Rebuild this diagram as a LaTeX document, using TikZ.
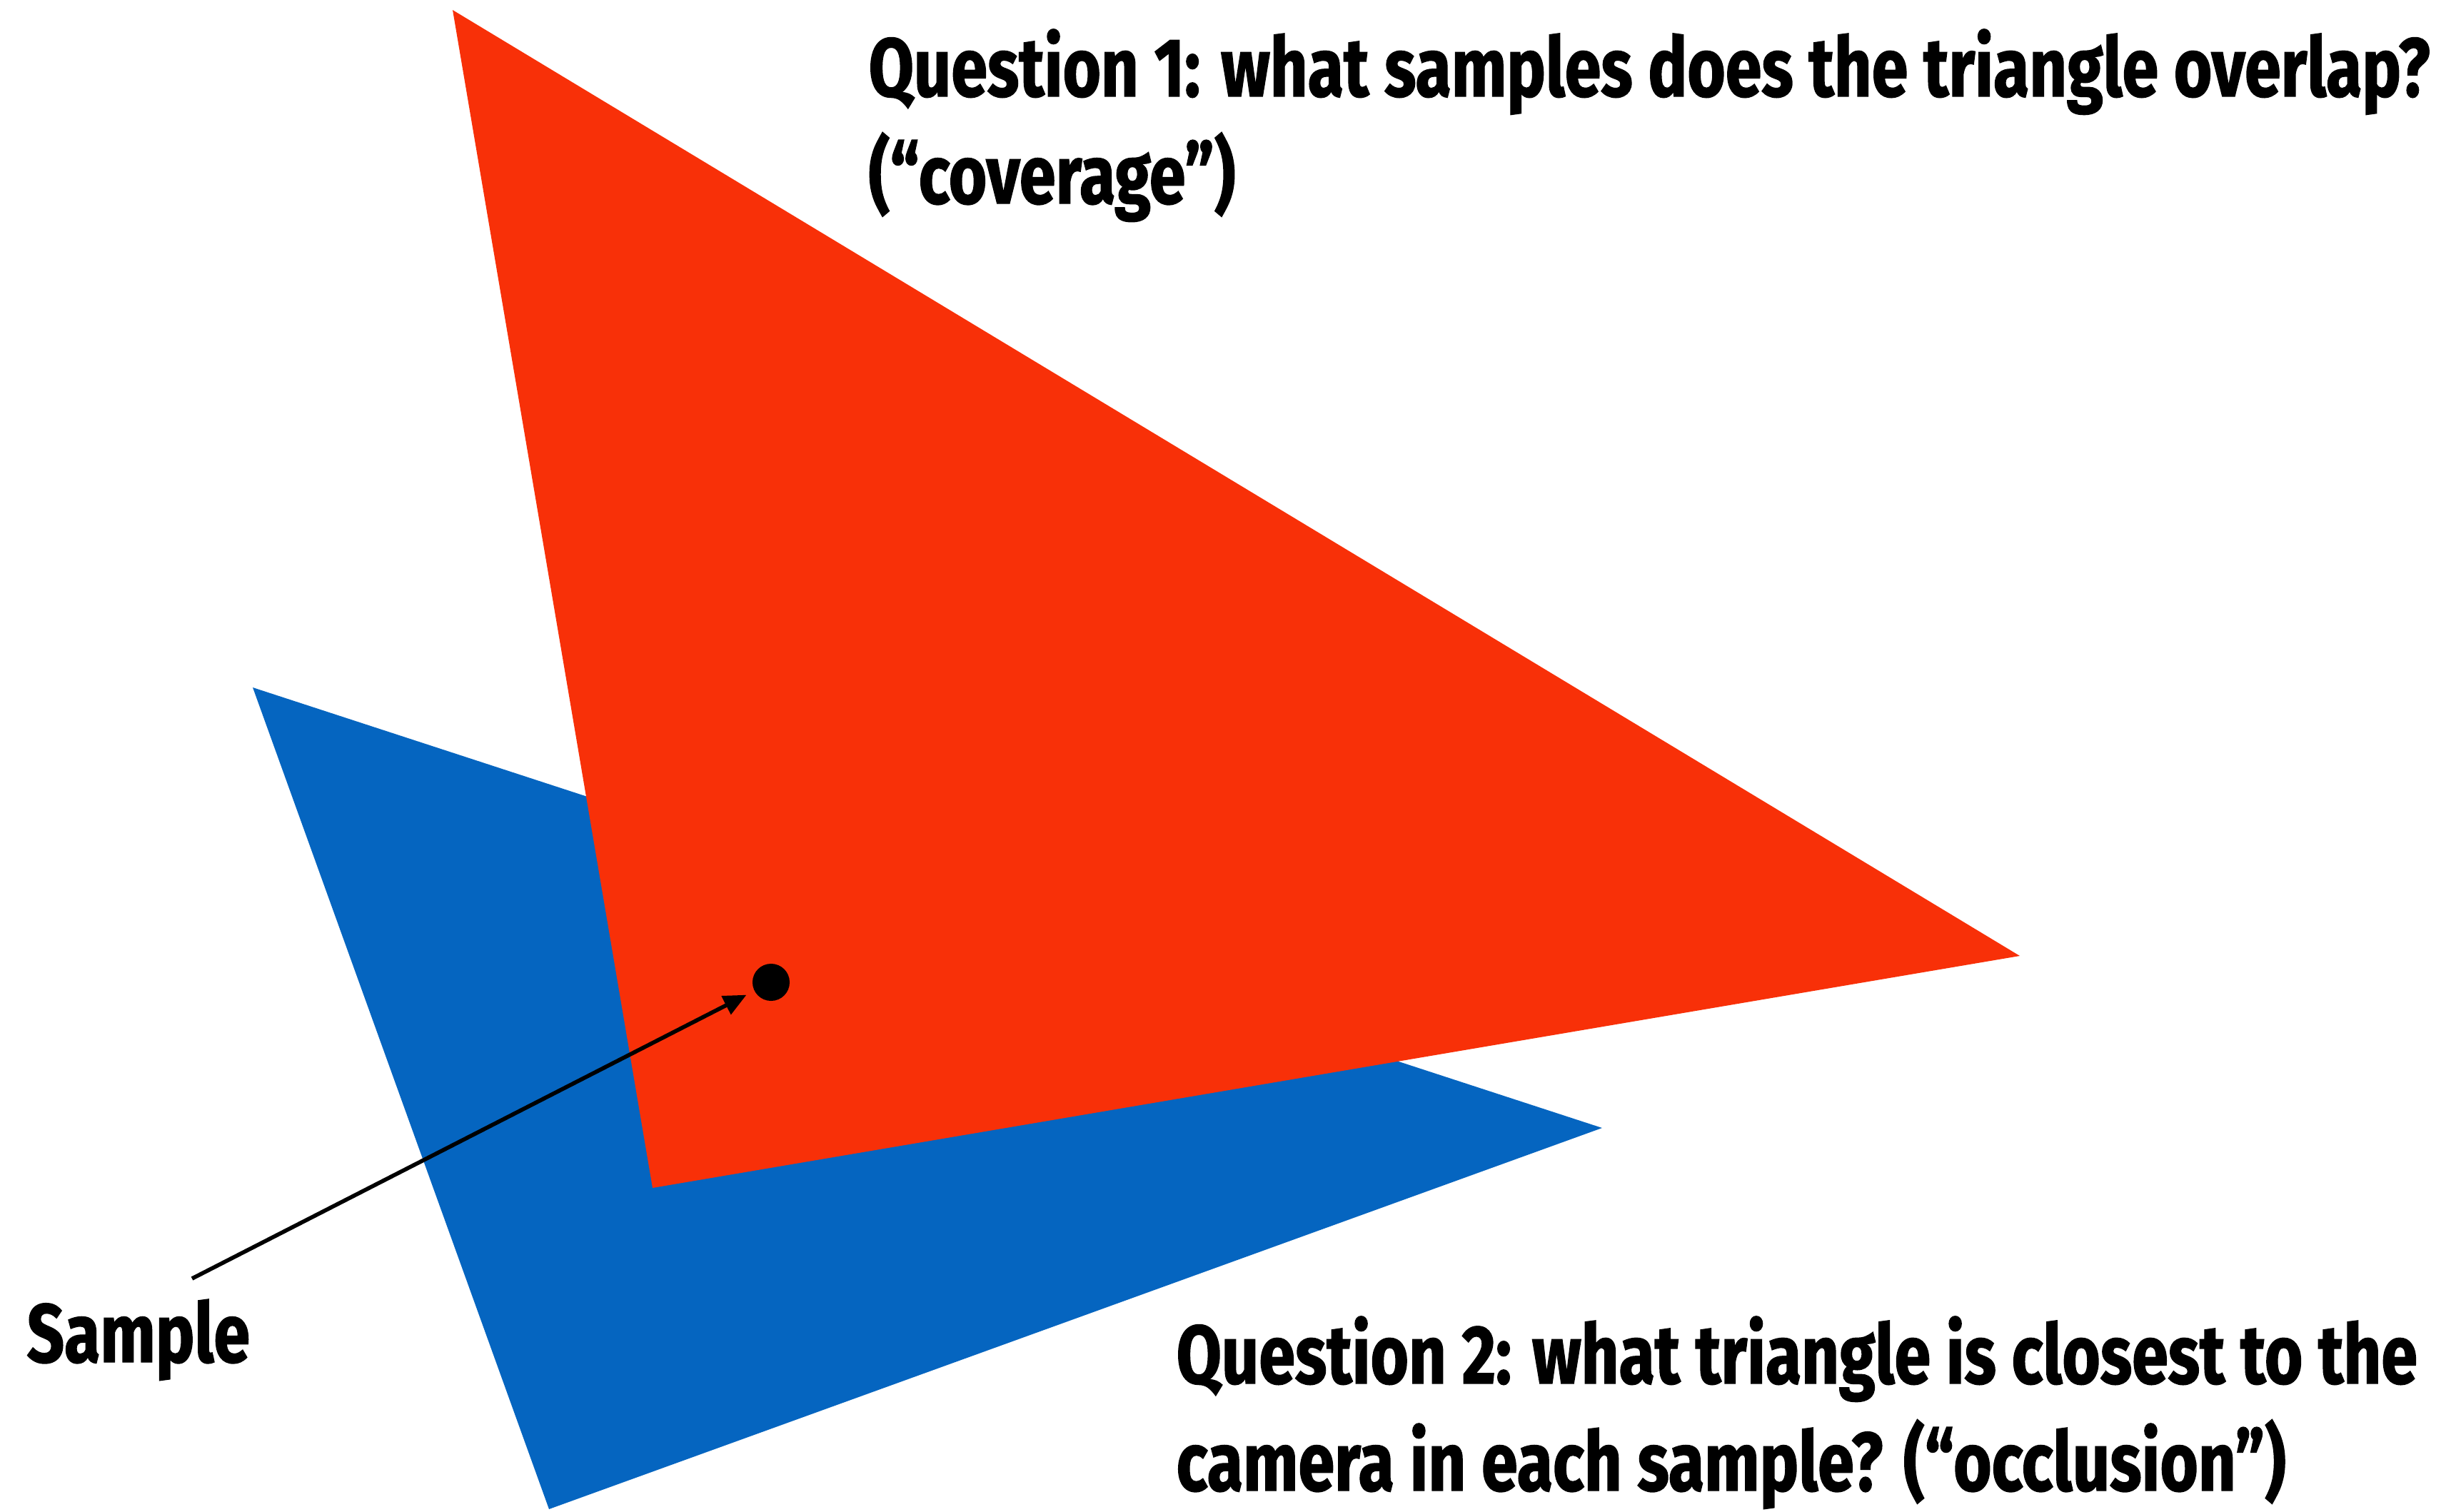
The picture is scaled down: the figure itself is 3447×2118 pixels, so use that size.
\documentclass[tikz,border=0pt]{standalone}
\usepackage{fontspec}
\setmainfont{Fira Sans}[FakeStretch=0.79, BoldFeatures={FakeBold=1.2}]
\usetikzlibrary{arrows.meta, positioning}
\usepackage{xcolor}
\definecolor{trired}{HTML}{F83008}
\definecolor{triblue}{HTML}{0565C0}
\definecolor{ink}{HTML}{000000}

\begin{document}
\begin{tikzpicture}[
  x=0.01cm, y=-0.01cm,
  lbl/.style={font=\fontsize{33}{42.7}\selectfont\bfseries, text=ink,
              inner sep=0pt, align=left, anchor=base west},
  smp/.style={circle, fill=ink, inner sep=0pt, minimum size=0.52cm},
  arr/.style={-{Triangle[length=3.2mm, width=2.8mm]}, line width=1.6pt, draw=ink}
]
\useasboundingbox (0,0) rectangle (3447,2118);

% triangles
\fill[triblue] (354,963) -- (2244,1580) -- (769,2114) -- cycle;
\fill[trired] (634,14) -- (2829,1339) -- (914,1664) -- cycle;

% sample point
\node[smp] (dot) at (1080,1376) {};
\coordinate (tail) at (269,1791);
\node[lbl] (sample) at (37,1908) {Sample};
\draw[arr, shorten >=0.12cm] (tail) -- (dot);

% questions (base = last line)
\node[lbl] (q1) at (1216,285) {Question 1: what samples does the triangle overlap?\\(“coverage”)};
\node[lbl] (q2) at (1647,2088) {Question 2: what triangle is closest to the\\camera in each sample? (“occlusion”)};

\end{tikzpicture}
\end{document}
